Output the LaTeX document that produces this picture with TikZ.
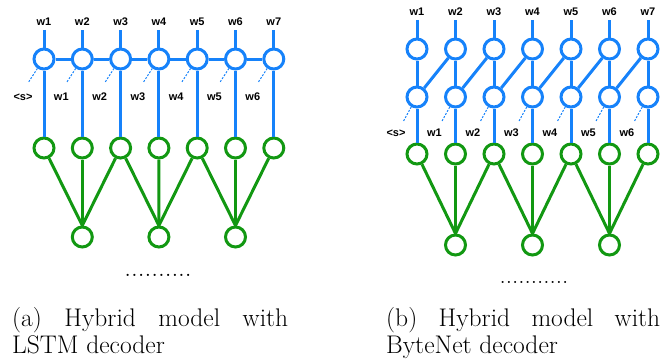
\documentclass[tikz,border=0pt]{standalone}
\usepackage{fontspec}
\newfontfamily\lblfont{Liberation Sans}
\definecolor{nnblue}{RGB}{22,130,250}
\definecolor{nngreen}{RGB}{18,152,18}
\begin{document}
\begin{tikzpicture}[x=1pt,y=-1pt,
  lbl/.style={font=\lblfont\bfseries\fontsize{11}{13}\selectfont, inner sep=1pt},
  bc/.style={circle, draw=nnblue, line width=3pt, minimum size=20pt, inner sep=0pt},
  gc/.style={circle, draw=nngreen, line width=3pt, minimum size=20pt, inner sep=0pt},
  bl/.style={draw=nnblue, line width=3pt},
  gl/.style={draw=nngreen, line width=3pt},
  dsh/.style={draw=nnblue, line width=1pt, dash pattern=on 2pt off 1.5pt},
  captext/.style={font=\fontsize{25.5}{27}\selectfont, inner sep=0pt, anchor=base west},
  dotsnode/.style={font=\fontsize{27}{31}\selectfont, inner sep=0pt}
]
\path[use as bounding box] (0,0) rectangle (665,359);

% ---------------- (a) LSTM decoder ----------------
\foreach \i in {1,...,7} {
  \pgfmathsetmacro{\xx}{44+(\i-1)*38.3}
  \node[lbl] (ta\i) at (\xx,22) {w\i};
  \node[bc] (a\i) at (\xx,59) {};
  \node[gc] (ga\i) at (\xx,148) {};
  \coordinate (da\i) at (\xx-16,83);
}
\node[lbl] (la1) at (23,97) {<s>};
\foreach \i [evaluate=\i as \j using int(\i-1)] in {2,...,7} {
  \pgfmathsetmacro{\xx}{44+(\i-1)*38.3-21}
  \node[lbl] (la\i) at (\xx,97) {w\j};
}
\foreach \i in {1,...,7} {
  \draw[bl, shorten <=3pt] (ta\i.south) -- (a\i);
  \draw[bl] (a\i) -- (ga\i);
  \draw[dsh] (a\i.235) -- (da\i);
}
\foreach \i [evaluate=\i as \j using int(\i+1)] in {1,...,6} {
  \draw[bl] (a\i) -- (a\j);
}
\node[gc] (ba1) at (82.3,237) {};
\node[gc] (ba2) at (158.9,237) {};
\node[gc] (ba3) at (235.5,237) {};
\draw[gl] (ga1) -- (ba1.north);
\draw[gl] (ga2) -- (ba1.north);
\draw[gl] (ga3) -- (ba1.north);
\draw[gl] (ga3) -- (ba2.north);
\draw[gl] (ga4) -- (ba2.north);
\draw[gl] (ga5) -- (ba2.north);
\draw[gl] (ga5) -- (ba3.north);
\draw[gl] (ga6) -- (ba3.north);
\draw[gl] (ga7) -- (ba3.north);
\node[dotsnode] (dotsa) at (158,275) {..........};

% ---------------- (b) ByteNet decoder ----------------
\foreach \i in {1,...,7} {
  \pgfmathsetmacro{\xx}{417+(\i-1)*38.5}
  \node[lbl] (tb\i) at (\xx,12) {w\i};
  \node[bc] (u\i) at (\xx,49) {};
  \node[bc] (m\i) at (\xx,97) {};
  \node[gc] (gb\i) at (\xx,154) {};
  \coordinate (db\i) at (\xx-14,122);
}
\node[lbl] (lb1) at (396,133) {<s>};
\foreach \i [evaluate=\i as \j using int(\i-1)] in {2,...,7} {
  \pgfmathsetmacro{\xx}{417+(\i-1)*38.5-21}
  \node[lbl] (lb\i) at (\xx,133) {w\j};
}
\foreach \i in {1,...,7} {
  \draw[bl, shorten <=3pt] (tb\i.south) -- (u\i);
  \draw[bl] (u\i) -- (m\i);
  \draw[bl] (m\i) -- (gb\i);
  \draw[dsh] (m\i.240) -- (db\i);
}
\foreach \i [evaluate=\i as \j using int(\i+1)] in {1,...,6} {
  \draw[bl] (m\i) -- (u\j);
}
\node[gc] (bb1) at (455.5,245) {};
\node[gc] (bb2) at (532.5,245) {};
\node[gc] (bb3) at (609.5,245) {};
\draw[gl] (gb1) -- (bb1.north);
\draw[gl] (gb2) -- (bb1.north);
\draw[gl] (gb3) -- (bb1.north);
\draw[gl] (gb3) -- (bb2.north);
\draw[gl] (gb4) -- (bb2.north);
\draw[gl] (gb5) -- (bb2.north);
\draw[gl] (gb5) -- (bb3.north);
\draw[gl] (gb6) -- (bb3.north);
\draw[gl] (gb7) -- (bb3.north);
\node[dotsnode, font=\fontsize{25}{30}\selectfont] (dotsb) at (534,282) {...........};

% ---------------- captions ----------------
\node[captext] (capa1) at (12,326) {\makebox[276pt][s]{(a) Hybrid model with}};
\node[captext] (capa2) at (12,353) {LSTM decoder};
\node[captext] (capb1) at (386,326) {\makebox[274pt][s]{(b) Hybrid model with}};
\node[captext] (capb2) at (386,353) {ByteNet decoder};
\end{tikzpicture}
\end{document}
